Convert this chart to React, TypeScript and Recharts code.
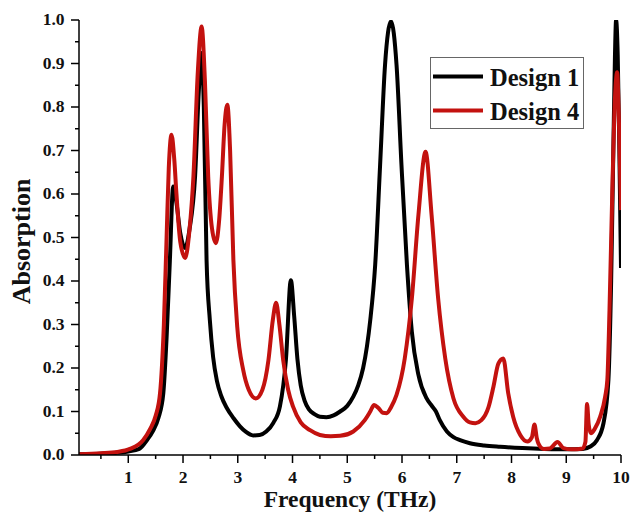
import React from 'react';
import { LineChart, Line, XAxis, YAxis, Legend } from 'recharts';

// ---------- data ----------
const freq1 = [0.1, 0.5, 0.8, 1.0, 1.2, 1.34, 1.45, 1.55, 1.64, 1.7, 1.76, 1.82, 1.88, 1.95, 2.04, 2.12, 2.22, 2.29, 2.34, 2.38, 2.43, 2.49, 2.55, 2.62, 2.7, 2.8, 2.92, 3.04, 3.15, 3.28, 3.4, 3.52, 3.65, 3.77, 3.88, 3.97, 4.03, 4.09, 4.15, 4.22, 4.3, 4.4, 4.5, 4.62, 4.75, 4.87, 5.0, 5.11, 5.2, 5.29, 5.36, 5.42, 5.51, 5.6, 5.69, 5.8, 5.9, 5.99, 6.09, 6.18, 6.3, 6.45, 6.55, 6.62, 6.69, 6.82, 6.94, 7.06, 7.24, 7.5, 7.79, 8.2, 8.6, 9.0, 9.3, 9.45, 9.56, 9.68, 9.77, 9.82, 9.86, 9.89, 9.91, 9.94, 9.97, 10];
const abs1 = [0.002, 0.003, 0.005, 0.008, 0.014, 0.034, 0.055, 0.085, 0.142, 0.27, 0.448, 0.617, 0.58, 0.51, 0.476, 0.52, 0.64, 0.84, 0.924, 0.8, 0.448, 0.31, 0.225, 0.17, 0.135, 0.108, 0.085, 0.066, 0.053, 0.045, 0.046, 0.054, 0.074, 0.112, 0.22, 0.402, 0.32, 0.22, 0.16, 0.125, 0.105, 0.094, 0.088, 0.087, 0.091, 0.1, 0.113, 0.134, 0.16, 0.2, 0.25, 0.31, 0.437, 0.667, 0.897, 0.997, 0.897, 0.667, 0.437, 0.283, 0.184, 0.13, 0.112, 0.1, 0.08, 0.054, 0.041, 0.034, 0.027, 0.022, 0.019, 0.016, 0.014, 0.013, 0.014, 0.02, 0.034, 0.073, 0.172, 0.4, 0.7, 0.92, 1.0, 0.92, 0.7, 0.43];

const freq4 = [0.1, 0.5, 0.8, 1.03, 1.27, 1.4, 1.5, 1.58, 1.65, 1.7, 1.74, 1.79, 1.84, 1.88, 1.95, 2.04, 2.12, 2.19, 2.27, 2.34, 2.4, 2.46, 2.53, 2.6, 2.66, 2.71, 2.76, 2.81, 2.86, 2.92, 2.99, 3.1, 3.2, 3.33, 3.45, 3.56, 3.64, 3.7, 3.76, 3.83, 3.92, 4.01, 4.15, 4.32, 4.5, 4.7, 4.87, 5.11, 5.32, 5.42, 5.49, 5.57, 5.65, 5.72, 5.8, 5.9, 6.05, 6.18, 6.3, 6.43, 6.54, 6.66, 6.79, 6.94, 7.12, 7.24, 7.34, 7.45, 7.58, 7.67, 7.76, 7.85, 7.94, 8.03, 8.16, 8.29, 8.37, 8.42, 8.46, 8.49, 8.59, 8.7, 8.84, 8.95, 9.1, 9.3, 9.35, 9.38, 9.41, 9.45, 9.52, 9.62, 9.71, 9.75, 9.79, 9.84, 9.89, 9.93, 9.96, 10];
const abs4 = [0.002, 0.004, 0.007, 0.014, 0.034, 0.06, 0.09, 0.142, 0.3, 0.5, 0.66, 0.736, 0.68, 0.6, 0.49, 0.453, 0.52, 0.64, 0.88, 0.985, 0.86, 0.64, 0.52, 0.487, 0.54, 0.64, 0.76, 0.805, 0.7, 0.448, 0.295, 0.195, 0.15, 0.13, 0.15, 0.218, 0.31, 0.35, 0.3, 0.218, 0.15, 0.111, 0.075, 0.057, 0.046, 0.043, 0.044, 0.054, 0.08, 0.1, 0.115, 0.108, 0.097, 0.096, 0.11, 0.138, 0.222, 0.36, 0.552, 0.697, 0.552, 0.36, 0.222, 0.13, 0.088, 0.075, 0.073, 0.08, 0.11, 0.157, 0.21, 0.222, 0.142, 0.088, 0.046, 0.031, 0.04, 0.07, 0.04, 0.027, 0.014, 0.015, 0.03, 0.016, 0.013, 0.015, 0.03, 0.117, 0.07, 0.05, 0.06, 0.088, 0.134, 0.172, 0.333, 0.6, 0.82, 0.88, 0.78, 0.563];

const seriesNames = ['Design 1', 'Design 4'];
const seriesColors = ['#000000', '#C3120F'];

const xMajorTicks = [1, 2, 3, 4, 5, 6, 7, 8, 9, 10];
const xMinorTicks = [0.5, 1.5, 2.5, 3.5, 4.5, 5.5, 6.5, 7.5, 8.5, 9.5];
const yMajorTicks = [0, 0.1, 0.2, 0.3, 0.4, 0.5, 0.6, 0.7, 0.8, 0.9, 1.0];
const yMinorTicks = [0.05, 0.15, 0.25, 0.35, 0.45, 0.55, 0.65, 0.75, 0.85, 0.95];

const xTitle = 'Frequency (THz)';
const yTitle = 'Absorption';

const data1 = freq1.map((f, i) => ({ f, v: abs1[i] }));
const data4 = freq4.map((f, i) => ({ f, v: abs4[i] }));

const FONT = '"Liberation Serif", "Times New Roman", serif';
const TXT = '#111';

const xTicks = [...xMinorTicks, ...xMajorTicks].sort((a, b) => a - b);
const yTicks = [...yMinorTicks, ...yMajorTicks].sort((a, b) => a - b);

const isMajor = (v: number, list: number[]) => list.some((t) => Math.abs(t - v) < 1e-9);

const XTick = (props: any) => {
  const { x, y, payload } = props;
  const major = isMajor(payload.value, xMajorTicks);
  return (
    <g>
      <line x1={x} x2={x} y1={y} y2={y + (major ? 8 : 4)} stroke="#000" strokeWidth={1.5} />
      {major && (
        <text x={x} y={y + 28} textAnchor="middle" fontFamily={FONT} fontWeight="bold" fontSize={17.5} fill={TXT}>
          {String(payload.value)}
        </text>
      )}
    </g>
  );
};

const YTick = (props: any) => {
  const { x, y, payload } = props;
  const major = isMajor(payload.value, yMajorTicks);
  return (
    <g>
      <line x1={x - (major ? 8 : 4)} x2={x} y1={y} y2={y} stroke="#000" strokeWidth={1.5} />
      {major && (
        <text x={x - 14.5} y={y + 5} textAnchor="end" fontFamily={FONT} fontWeight="bold" fontSize={17.5} fill={TXT}>
          {Number(payload.value).toFixed(1)}
        </text>
      )}
    </g>
  );
};

const XTitle = (props: any) => {
  const vb = props.viewBox || { x: 79, y: 455, width: 542 };
  return (
    <text x={vb.x + vb.width / 2} y={vb.y + 52} textAnchor="middle" fontFamily={FONT} fontWeight="bold" fontSize={23.5} fill={TXT}>
      {xTitle}
    </text>
  );
};

const YTitle = (props: any) => {
  const vb = props.viewBox || { x: 0, y: 20, height: 435 };
  const cx = 29.5;
  const cy = vb.y + vb.height / 2 + 4;
  return (
    <text x={cx} y={cy} textAnchor="middle" transform={`rotate(-90, ${cx}, ${cy})`} fontFamily={FONT} fontWeight="bold" fontSize={26} fill={TXT}>
      {yTitle}
    </text>
  );
};

const LegendBox = (props: any) => {
  const payload = props.payload || [];
  return (
    <svg width={154} height={72} style={{ display: 'block' }}>
      <rect x={0.5} y={0.5} width={153} height={71} fill="#fff" stroke="#666" strokeWidth={1} />
      {payload.map((p: any, i: number) => (
        <g key={i}>
          <line x1={3} x2={53} y1={19.5 + i * 34} y2={19.5 + i * 34} stroke={p.color} strokeWidth={4} />
          <text x={60} y={28.5 + i * 34} fontFamily={FONT} fontWeight="bold" fontSize={24.5} fill={TXT}>
            {p.value}
          </text>
        </g>
      ))}
    </svg>
  );
};

export default function App() {
  return (
    <div style={{ position: 'absolute', left: 0, top: 0, width: 630, height: 513, background: '#fff' }}>
      <LineChart width={630} height={513} margin={{ top: 20, right: 9, bottom: 0, left: 0 }}>
        <XAxis
          type="number"
          dataKey="f"
          domain={[0.1, 10]}
          allowDataOverflow
          ticks={xTicks}
          interval={0}
          tick={XTick}
          tickLine={false}
          tickSize={0}
          tickMargin={0}
          height={58}
          axisLine={{ stroke: '#000', strokeWidth: 1.5 }}
          label={<XTitle />}
        />
        <YAxis
          type="number"
          domain={[0, 1]}
          allowDataOverflow
          ticks={yTicks}
          interval={0}
          tick={YTick}
          tickLine={false}
          tickSize={0}
          tickMargin={0}
          width={79}
          axisLine={{ stroke: '#000', strokeWidth: 1.5 }}
          label={<YTitle />}
        />
        <Legend
          layout="vertical"
          align="center"
          verticalAlign="middle"
          content={<LegendBox />}
          wrapperStyle={{ position: 'absolute', left: 430, top: 57, width: 154, height: 72 }}
        />
        <Line data={data1} dataKey="v" name={seriesNames[0]} type="monotone" stroke={seriesColors[0]} strokeWidth={4} dot={false} activeDot={false} isAnimationActive={false} />
        <Line data={data4} dataKey="v" name={seriesNames[1]} type="monotone" stroke={seriesColors[1]} strokeWidth={4} dot={false} activeDot={false} isAnimationActive={false} />
      </LineChart>
    </div>
  );
}
